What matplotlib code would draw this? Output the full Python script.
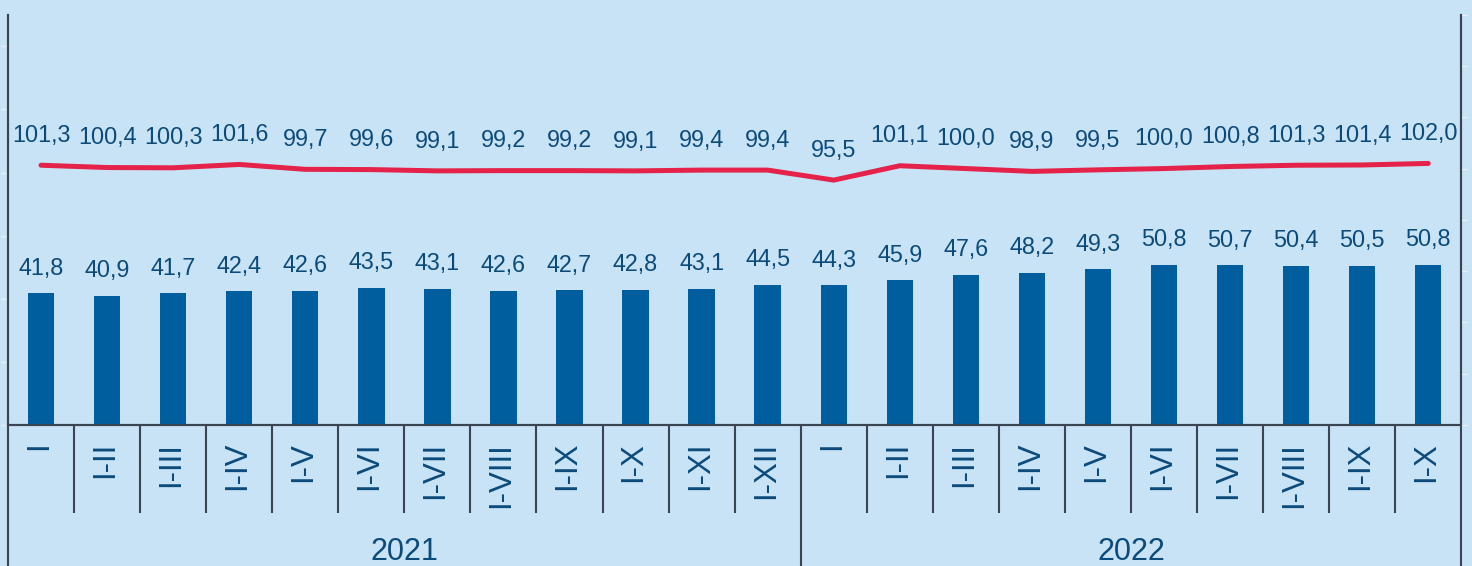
import matplotlib
matplotlib.use("Agg")
import matplotlib.pyplot as plt
import matplotlib.transforms as mtransforms

# categories (cumulative months) and year groups
periods = ["I", "I-II", "I-III", "I-IV", "I-V", "I-VI", "I-VII", "I-VIII", "I-IX",
           "I-X", "I-XI", "I-XII",
           "I", "I-II", "I-III", "I-IV", "I-V", "I-VI", "I-VII", "I-VIII", "I-IX", "I-X"]
years = ["2021", "2022"]
year_counts = [12, 10]

# bars (left axis) and index line (right axis)
bar_values = [41.8, 40.9, 41.7, 42.4, 42.6, 43.5, 43.1, 42.6, 42.7, 42.8, 43.1, 44.5,
              44.3, 45.9, 47.6, 48.2, 49.3, 50.8, 50.7, 50.4, 50.5, 50.8]
line_values = [101.3, 100.4, 100.3, 101.6, 99.7, 99.6, 99.1, 99.2, 99.2, 99.1, 99.4, 99.4,
               95.5, 101.1, 100.0, 98.9, 99.5, 100.0, 100.8, 101.3, 101.4, 102.0]

BG = "#c8e3f6"
BAR = "#005e9e"
LINE = "#e4224a"
TXT = "#0c4a7a"
AXC = "#3b4452"

plt.rcParams["font.family"] = ["Liberation Sans", "DejaVu Sans"]


def fmt(v):
    return f"{v:.1f}".replace(".", ",")


W, H = 1472, 566
fig = plt.figure(figsize=(W / 100, H / 100), dpi=100, facecolor=BG)
ax = fig.add_axes([8 / W, 1 - 425 / H, (1461.3 - 8) / W, (425 - 14.7) / H])
ax.set_facecolor(BG)
ax2 = ax.twinx()
ax2.patch.set_visible(False)

x = list(range(len(periods)))
ax.bar(x, bar_values, width=0.4, color=BAR, zorder=2)
for xi, v in zip(x, bar_values):
    ax.annotate(fmt(v), (xi, v), xytext=(0, 13.3), textcoords="offset points",
                ha="center", va="baseline", fontsize=16.8, color=TXT)

ax2.plot(x, line_values, color=LINE, lw=3.6, solid_capstyle="round",
         solid_joinstyle="miter", zorder=3)
for xi, v in zip(x, line_values):
    ax2.annotate(fmt(v), (xi, v), xytext=(0, 16.8), textcoords="offset points",
                 ha="center", va="baseline", fontsize=16.8, color=TXT)

ax.set_xlim(-0.5, len(periods) - 0.5)
ax.set_ylim(0, 130)
ax2.set_ylim(0, 160)
ax.set_yticks(range(0, 121, 20))
ax2.set_yticks(range(0, 161, 20))
ax.set_xticks([])
ax.tick_params(axis="y", direction="out", length=5, width=1, color="#e6f1fb",
               labelleft=False)
ax2.tick_params(axis="y", direction="out", length=4, width=1, color="#e6f1fb",
                labelright=False)

for a in (ax, ax2):
    a.spines["top"].set_visible(False)
    for s in ("left", "right", "bottom"):
        a.spines[s].set_color(AXC)
        a.spines[s].set_linewidth(1.5)

# separators and labels below the axis
trans = mtransforms.blended_transform_factory(ax.transData, ax.transAxes)
year_edges = [-0.5]
for c in year_counts:
    year_edges.append(year_edges[-1] + c)
for i in range(len(periods) + 1):
    b = i - 0.5
    low = -0.37 if b in year_edges else -0.2145
    ax.plot([b, b], [0, low], transform=trans, color=AXC, lw=1.5,
            clip_on=False, solid_capstyle="butt")

for xi, lab in zip(x, periods):
    ax.text(xi - 0.03, -0.041, lab, transform=trans, rotation=90, ha="center",
            va="top", fontsize=22.5, color=TXT)

for yr, lo, hi in zip(years, year_edges[:-1], year_edges[1:]):
    ax.text((lo + hi) / 2, -0.274, yr, transform=trans, ha="center", va="top",
            fontsize=22, color=TXT)

fig.savefig("out.png", dpi=100, facecolor=BG)
